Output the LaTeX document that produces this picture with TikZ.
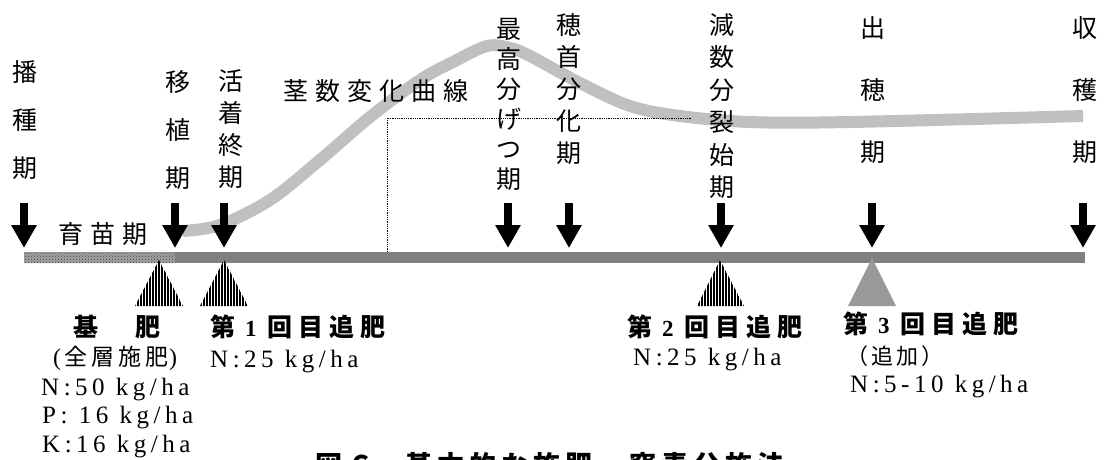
\documentclass[tikz,border=0pt]{standalone}
\usepackage{fontspec}
\setmainfont{Liberation Serif}
\newfontfamily\jp{Noto Sans CJK JP}
\usetikzlibrary{patterns,patterns.meta,arrows.meta}
\definecolor{bargray}{HTML}{808080}
\definecolor{stemgray}{HTML}{C0C0C0}
\definecolor{trigray}{HTML}{999999}
\definecolor{seedgray}{HTML}{A2A2A2}
\newcommand\lsp[2]{\def\lspk{#1}\lspA#2\lspend}
\def\lspend{\lspend}
\def\lspA#1{#1\lspB}
\def\lspB#1{\ifx\lspend#1\else\kern\lspk\relax#1\expandafter\lspB\fi}
\newcommand\lw[1]{\lsp{4.5pt}{#1}}
\newcommand\wsp{\kern5pt\ }
\tikzset{
  darrow/.style={line width=8pt,-{Triangle[width=24pt,length=23pt]}},
  vlab/.style={inner sep=0pt,align=center,font=\jp\fontsize{25}{#1}\selectfont},
  hlab/.style={inner sep=0pt,anchor=west,font=\jp\fontsize{25}{30}\selectfont},
  blab/.style={inner sep=0pt,anchor=west,font=\jp\bfseries\fontsize{25}{30}\selectfont},
  llab/.style={inner sep=0pt,anchor=base west,font=\rmfamily\fontsize{25}{28}\selectfont},
  stem/.style={draw=stemgray,line width=12pt,line cap=butt},
  hatch/.style={pattern={Lines[angle=90,distance=3pt,line width=1.7pt]},pattern color=black},
  dotl/.style={draw=black,line width=0.8pt,densely dotted},
}
\begin{document}
\begin{tikzpicture}[x=1pt,y=-1pt]
\useasboundingbox (0,0) rectangle (1105,459);
% stem number curve
\draw[stem] plot[smooth,tension=0.55] coordinates {(183,231) (220,225) (270,200) (320,160) (370,117) (420,80) (453,62) (487,46) (510,48) (530,56) (580,83) (630,106) (680,116) (750,122) (850,122) (1083,116)};
% dotted guide lines
\coordinate (dv) at (387,252);
\coordinate (dc) at (387,118);
\coordinate (dh) at (692,118);
\draw[dotl] (dv) -- (dc) -- (dh);
% time bar
\fill[bargray] (175,252) rectangle (1085,263);
\fill[seedgray] (24,252) rectangle (175,263);
\fill[pattern=crosshatch dots,pattern color=black!75] (24,252) rectangle (175,263);
% fertilizer triangles
\path[hatch] (135,306) -- (159,260) -- (183,306) -- cycle;
\path[hatch] (200,306) -- (224,260) -- (248,306) -- cycle;
\path[hatch] (697,306) -- (720,260) -- (744,306) -- cycle;
\fill[trigray] (848,306) -- (872,258) -- (896,306) -- cycle;
% arrows
\foreach \n/\x in {a1/24,a2/175,a3/224,a4/508,a5/569,a6/721,a7/872,a8/1083}{
  \coordinate (\n t) at (\x,203);
  \coordinate (\n b) at (\x,248);
  \draw[darrow] (\n t) -- (\n b);
}
% vertical stage labels
\node[vlab=48] (bo) at (25,120) {播\\種\\期};
\node[vlab=48] (it) at (178,130) {移\\植\\期};
\node[vlab=32] (ka) at (231,129) {活\\着\\終\\期};
\node[vlab=30] (sa) at (509,104) {最\\高\\分\\げ\\つ\\期};
\node[vlab=32] (hk) at (569,89) {穂\\首\\分\\化\\期};
\node[vlab=32.4] (gs) at (722,106) {減\\数\\分\\裂\\始\\期};
\node[vlab=62] (sy) at (873,90) {出\\穂\\期};
\node[vlab=62] (sh) at (1085,90) {収\\穫\\期};
% horizontal labels
\node[hlab] (kl) at (283,91) {\lsp{7pt}{茎数変化曲線}};
\node[hlab] (ik) at (58,234) {\lsp{7pt}{育苗期}};
% fertilizer labels
\node[blab] (kihi) at (73,327) {基\kern37pt 肥};
\node[blab] (t1) at (210,327) {第\kern10pt{\rmfamily\bfseries\fontsize{23}{28}\selectfont 1}\kern11pt\lsp{6pt}{回目追肥}};
\node[blab] (t2) at (627,327) {第\kern10pt{\rmfamily\bfseries\fontsize{23}{28}\selectfont 2}\kern11pt\lsp{6pt}{回目追肥}};
\node[blab] (t3) at (843,324) {第\kern10pt{\rmfamily\bfseries\fontsize{23}{28}\selectfont 3}\kern11pt\lsp{6pt}{回目追肥}};
\node[inner sep=0pt,anchor=west,font=\rmfamily\fontsize{24}{28}\selectfont] (zs) at (53,358) {(\kern3pt{\jp\fontsize{23}{28}\selectfont\lsp{4pt}{全層施肥}}\kern1pt)};
\node[inner sep=0pt,anchor=west,font=\jp\fontsize{22}{26}\selectfont] (tk) at (846,356) {\lsp{3pt}{（追加）}};
\node[llab] (n50) at (41,395) {\lw{N:50}\wsp\lw{kg/ha}};
\node[llab] (p16) at (42,423) {\lw{P:}\wsp\lw{16}\wsp\lw{kg/ha}};
\node[llab] (k16) at (42,452) {\lw{K:16}\wsp\lw{kg/ha}};
\node[llab] (n1) at (210,367) {\lw{N:25}\wsp\lw{kg/ha}};
\node[llab] (n2) at (633,365) {\lw{N:25}\wsp\lw{kg/ha}};
\node[llab] (n3) at (850,392) {\lw{N:5-10}\wsp\lw{kg/ha}};
% caption (cut off at the bottom edge, as in the original)
\node[inner sep=0pt,anchor=base west,font=\jp\bfseries\fontsize{27}{30}\selectfont] (cap) at (315,475) {\lsp{5pt}{図６}\kern31pt\lsp{5pt}{基本的な施肥、窒素分施法}};
\end{tikzpicture}
\end{document}
